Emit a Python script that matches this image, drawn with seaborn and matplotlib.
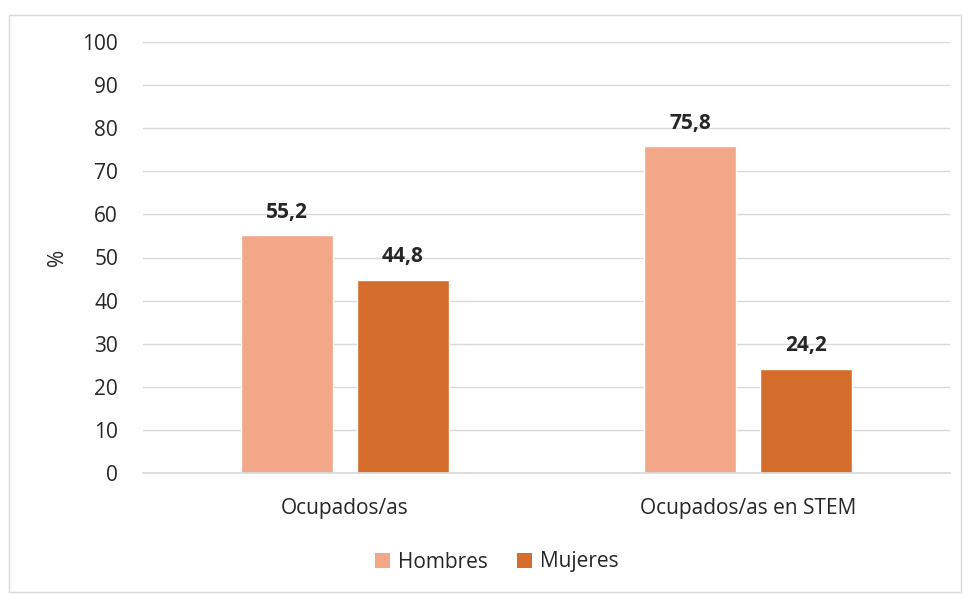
import matplotlib
matplotlib.use("Agg")
import matplotlib.pyplot as plt
import seaborn as sns
import pandas as pd
from matplotlib.patches import Rectangle, Patch

categories = ["Ocupados/as", "Ocupados/as en STEM"]
series = ["Hombres", "Mujeres"]
hombres = [55.2, 75.8]
mujeres = [44.8, 24.2]
yticks = [0, 10, 20, 30, 40, 50, 60, 70, 80, 90, 100]
colors = ["#F1A788", "#D46D2C"]

df = pd.DataFrame({
    "cat": categories * 2,
    "sexo": [series[0]] * 2 + [series[1]] * 2,
    "val": hombres + mujeres,
})

sns.set_theme(style="white")
plt.rcParams["font.family"] = ["Open Sans", "DejaVu Sans"]

FS = 15
fig = plt.figure(figsize=(9.63, 5.94), dpi=100)
ax = fig.add_axes([143 / 963, 1 - 473 / 594, (950 - 143) / 963, (473 - 42) / 594])

sns.barplot(data=df, x="cat", y="val", hue="sexo", order=categories,
            hue_order=series, palette=colors, width=0.575, gap=0.207,
            saturation=1, ax=ax, legend=False)

ax.set_ylim(0, 100)
ax.set_xlim(-0.5, 1.5)
ax.set_yticks(yticks)
ax.set_yticklabels([str(t) for t in yticks], fontsize=FS, color="#262626")
ax.tick_params(axis="x", labelsize=FS, colors="#262626", length=0, pad=18)
ax.tick_params(axis="y", length=0, pad=18)
ax.yaxis.grid(True, color="#D9D9D9", linewidth=1)
ax.set_axisbelow(True)
for s in ["top", "right", "left"]:
    ax.spines[s].set_visible(False)
ax.spines["bottom"].set_color("#D9D9D9")
ax.set_xlabel("")
ax.set_ylabel("%", fontsize=FS, color="#262626", labelpad=10)

for cont in ax.containers:
    ax.bar_label(cont, labels=[f"{v:.1f}".replace(".", ",") for v in cont.datavalues],
                 padding=9, fontsize=FS, fontweight="bold", color="#262626")

handles = [Patch(facecolor=c, edgecolor="none") for c in colors]
fig.legend(handles, series, loc="center", bbox_to_anchor=(497 / 963, 1 - 562 / 594),
           ncol=2, frameon=False, fontsize=FS, handlelength=0.7, handleheight=0.7,
           handletextpad=0.4, columnspacing=1.4, labelcolor="#262626")

fig.patches.append(Rectangle((9 / 963, 1 - 592 / 594), (961 - 9) / 963, (592 - 15) / 594,
                             transform=fig.transFigure, fill=False,
                             edgecolor="#D9D9D9", linewidth=1))

fig.savefig("out.png", dpi=100)
